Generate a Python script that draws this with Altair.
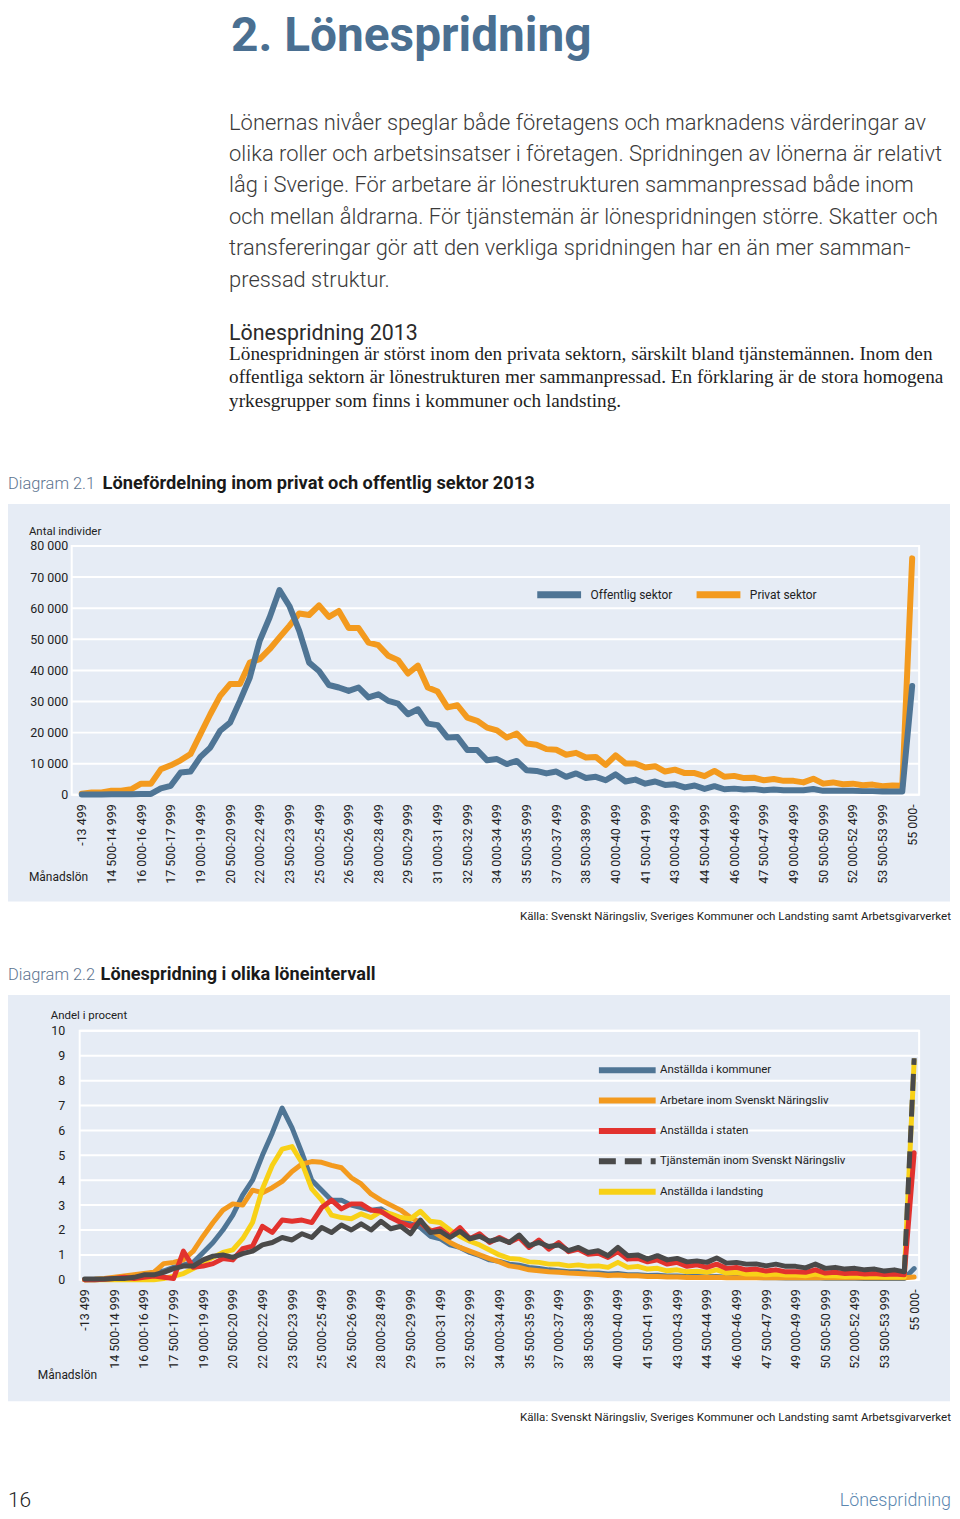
import altair as alt
import pandas as pd

FONT = "Roboto, Liberation Sans, sans-serif"
SERIF = "Liberation Serif, DejaVu Serif, serif"
BG = "#e6ecf5"
BLUE = "#4f7595"
ORANGE = "#f39a1e"
RED = "#e2322e"
DARK = "#4a4a4a"
YELLOW = "#f8d117"


def sp(n):
    return f"{n:,}".replace(",", " ")


CATEGORIES = ["-13 499"] + [f"{sp(a)}-{sp(a + 499)}" for a in range(13500, 55000, 500)] + ["55 000-"]
TICKS = CATEGORIES[::3]
GRID1 = list(range(0, 80001, 10000))
GRID2 = list(range(0, 11))

OFFENTLIG = [100, 100, 100, 200, 200, 200, 300, 300,
             2100, 2900, 7200, 7500, 12200, 15200, 20600, 23200,
             30200, 37700, 49500, 57000, 65800, 60700, 52700, 42500,
             39800, 35300, 34500, 33400, 34500, 31300, 32300, 30200,
             29300, 25900, 27500, 22900, 22400, 18400, 18600, 14400,
             14400, 11100, 11500, 9900, 10900, 7900, 7700, 6900,
             7500, 5800, 6900, 5400, 5800, 4700, 6600, 4300,
             4900, 3600, 4300, 3200, 3400, 2400, 3000, 1900,
             2800, 1800, 2000, 1700, 1900, 1500, 1700, 1500,
             1500, 1500, 1900, 1300, 1300, 1300, 1300, 1200,
             1200, 1100, 1100, 1100, 35000]
PRIVAT = [400, 750, 750, 1300, 1300, 1800, 3600, 3600,
          8200, 9500, 11100, 13100, 19500, 25900, 31800, 35600,
          35600, 42500, 43600, 46800, 50600, 54300, 58300, 57800,
          60900, 57200, 59100, 53600, 53600, 48900, 48100, 44700,
          43300, 39000, 41500, 34500, 33200, 28100, 28800, 24800,
          23800, 21600, 20700, 18400, 19700, 16500, 16100, 14700,
          14500, 12900, 13500, 12000, 12200, 9600, 12700, 10100,
          10100, 8800, 9200, 7500, 8100, 7000, 7000, 6000,
          7700, 5800, 6100, 5400, 5500, 4700, 5100, 4500,
          4500, 4000, 5200, 3600, 4000, 3400, 3600, 3100,
          3300, 2800, 3000, 2900, 76000]

KOMMUNER = [0.0, 0.0, 0.02, 0.05, 0.1, 0.15, 0.2, 0.3,
            0.35, 0.5, 0.6, 0.7, 1.1, 1.5, 2.0, 2.6,
            3.4, 4.0, 5.0, 5.9, 6.9, 6.1, 5.1, 4.0,
            3.6, 3.2, 3.2, 3.0, 2.9, 2.8, 2.85, 2.6,
            2.45, 2.25, 2.1, 1.75, 1.65, 1.4, 1.3, 1.1,
            0.97, 0.8, 0.74, 0.63, 0.59, 0.5, 0.46, 0.4,
            0.36, 0.32, 0.32, 0.27, 0.27, 0.23, 0.25, 0.2,
            0.2, 0.17, 0.18, 0.15, 0.15, 0.13, 0.13, 0.12,
            0.13, 0.1, 0.1, 0.09, 0.09, 0.08, 0.08, 0.07,
            0.07, 0.07, 0.08, 0.06, 0.06, 0.06, 0.06, 0.05,
            0.05, 0.05, 0.05, 0.05, 0.45]
ARBETARE = [0.0, 0.02, 0.05, 0.1, 0.15, 0.2, 0.25, 0.3,
            0.65, 0.7, 0.8, 1.15, 1.75, 2.3, 2.8, 3.05,
            3.0, 3.6, 3.5, 3.7, 3.95, 4.35, 4.65, 4.75,
            4.72, 4.6, 4.5, 4.1, 3.85, 3.45, 3.2, 3.0,
            2.8, 2.5, 2.3, 2.0, 1.75, 1.5, 1.3, 1.15,
            1.0, 0.85, 0.72, 0.56, 0.5, 0.4, 0.36, 0.32,
            0.3, 0.27, 0.25, 0.23, 0.21, 0.17, 0.19, 0.16,
            0.16, 0.13, 0.13, 0.11, 0.11, 0.09, 0.09, 0.09,
            0.1, 0.08, 0.08, 0.08, 0.08, 0.08, 0.08, 0.08,
            0.08, 0.08, 0.09, 0.08, 0.08, 0.08, 0.08, 0.08,
            0.08, 0.08, 0.08, 0.08, 0.11]
STATEN = [0.0, 0.0, 0.02, 0.05, 0.1, 0.05, 0.1, 0.15,
          0.1, 0.05, 1.15, 0.5, 0.55, 0.65, 0.85, 0.8,
          1.25, 1.35, 2.15, 1.9, 2.4, 2.35, 2.4, 2.3,
          2.9, 3.2, 2.85, 3.05, 3.05, 2.8, 2.75, 2.5,
          2.3, 2.15, 2.3, 1.95, 2.05, 1.75, 2.1, 1.65,
          1.85, 1.5, 1.7, 1.5, 1.7, 1.3, 1.6, 1.23,
          1.5, 1.13, 1.23, 1.03, 1.07, 0.9, 1.13, 0.83,
          0.86, 0.72, 0.8, 0.63, 0.7, 0.54, 0.6, 0.5,
          0.63, 0.46, 0.5, 0.4, 0.43, 0.35, 0.4, 0.32,
          0.32, 0.3, 0.4, 0.27, 0.3, 0.25, 0.27, 0.23,
          0.25, 0.21, 0.23, 0.2, 5.1]
TJANSTEMAN = [0.03, 0.03, 0.03, 0.05, 0.05, 0.1, 0.2, 0.2,
              0.3, 0.45, 0.55, 0.55, 0.8, 0.95, 1.0, 0.9,
              1.05, 1.15, 1.4, 1.5, 1.7, 1.6, 1.85, 1.7,
              2.1, 1.9, 2.2, 2.0, 2.25, 2.0, 2.35, 2.05,
              2.15, 1.85, 2.4, 1.9, 1.95, 1.7, 1.95, 1.65,
              1.75, 1.55, 1.65, 1.5, 1.8, 1.37, 1.5, 1.34,
              1.4, 1.17, 1.3, 1.1, 1.17, 0.97, 1.3, 0.97,
              1.0, 0.83, 0.97, 0.8, 0.86, 0.72, 0.76, 0.7,
              0.88, 0.67, 0.7, 0.63, 0.64, 0.56, 0.63, 0.54,
              0.54, 0.48, 0.63, 0.46, 0.5, 0.43, 0.46, 0.4,
              0.43, 0.35, 0.4, 0.32, 8.9]
LANDSTING = [0.0, 0.0, 0.0, 0.0, 0.0, 0.0, 0.0, 0.0,
             0.05, 0.15, 0.25, 0.45, 0.7, 0.9, 1.1, 1.2,
             1.65, 2.3, 3.65, 4.6, 5.25, 5.35, 4.7, 3.65,
             3.2, 2.6, 2.5, 2.45, 2.65, 2.5, 2.75, 2.65,
             2.5, 2.45, 2.75, 2.35, 2.3, 2.0, 1.75, 1.55,
             1.4, 1.2, 1.0, 0.86, 0.83, 0.72, 0.7, 0.63,
             0.63, 0.56, 0.6, 0.54, 0.56, 0.5, 0.7, 0.5,
             0.54, 0.43, 0.46, 0.36, 0.4, 0.32, 0.34, 0.3,
             0.4, 0.27, 0.3, 0.23, 0.24, 0.2, 0.23, 0.19,
             0.19, 0.16, 0.23, 0.16, 0.16, 0.13, 0.15, 0.12,
             0.13, 0.11, 0.11, 0.11, 8.8]

SER1 = ["Offentlig sektor", "Privat sektor"]
SER2 = ["Anställda i kommuner", "Arbetare inom Svenskt Näringsliv", "Anställda i staten",
        "Tjänstemän inom Svenskt Näringsliv", "Anställda i landsting"]

PARA1 = [
    "Lönernas nivåer speglar både företagens och marknadens värderingar av",
    "olika roller och arbetsinsatser i företagen. Spridningen av lönerna är relativt",
    "låg i Sverige. För arbetare är lönestrukturen sammanpressad både inom",
    "och mellan åldrarna. För tjänstemän är lönespridningen större. Skatter och",
    "transfereringar gör att den verkliga spridningen har en än mer samman-",
    "pressad struktur.",
]
PARA2 = [
    "Lönespridningen är störst inom den privata sektorn, särskilt bland tjänstemännen. Inom den",
    "offentliga sektorn är lönestrukturen mer sammanpressad. En förklaring är de stora homogena",
    "yrkesgrupper som finns i kommuner och landsting.",
]
SOURCE = "Källa: Svenskt Näringsliv, Sveriges Kommuner och Landsting samt Arbetsgivarverket"

ONE = pd.DataFrame({"d": [0]})
W = 851
H = 250
XR = 884  # right edge of the page area, relative to the plot origin


def txt(s, x, y, size, color="#222222", weight="normal", font=FONT, align="left"):
    return alt.Chart(ONE).mark_text(
        text=s, align=align, baseline="alphabetic", font=font, fontSize=size,
        fontWeight=weight, color=color
    ).encode(x=alt.value(x), y=alt.value(y))


def box(x1, x2, y1, y2, color="white"):
    return alt.Chart(ONE).mark_rect(color=color).encode(
        x=alt.value(x1), x2=alt.value(x2), y=alt.value(y1), y2=alt.value(y2))


def frame(x1):
    return alt.Chart(ONE).mark_rect(fillOpacity=0, stroke="white", strokeWidth=2).encode(
        x=alt.value(x1), x2=alt.value(W), y=alt.value(0), y2=alt.value(H))


def xaxis():
    return alt.Axis(values=TICKS, labelAngle=270, labelPadding=9, labelFont=FONT,
                    labelFontSize=12.5, labelColor="#222222", ticks=False, domain=False,
                    grid=False, title=None, labelOverlap=False, zindex=1)


# ---------- header ----------
header_layers = [box(-64, XR, 0, 452),
                 txt("2. Lönespridning", 160, 40, 48, "#4a6f91", "bold")]
for k, line in enumerate(PARA1):
    header_layers.append(txt(line, 158, 119 + 31.5 * k, 22, "#3a3a3a", 300))
header_layers.append(txt("Lönespridning 2013", 158, 330, 21.5, "#2b2b2b"))
for k, line in enumerate(PARA2):
    header_layers.append(txt(line, 158, 350 + 23.75 * k, 19.3, "#1e1e1e", font=SERIF))
header = alt.layer(*header_layers).properties(width=W, height=452)

# ---------- chart 1 ----------
df1 = pd.DataFrame({
    "kat": CATEGORIES * 2,
    "serie": ["Privat sektor"] * len(PRIVAT) + ["Offentlig sektor"] * len(OFFENTLIG),
    "antal": PRIVAT + OFFENTLIG,
})
y1 = alt.Y("antal:Q", scale=alt.Scale(domain=[0, 80000], nice=False),
           axis=alt.Axis(values=GRID1,
                         labelExpr="replace(format(datum.value, ',d'), ',', ' ')",
                         grid=False, domain=False, ticks=False, tickSize=0, labelPadding=4,
                         labelFont=FONT, labelFontSize=12.5, labelColor="#222222", title=None,
                         zindex=1))
grid1 = alt.Chart(pd.DataFrame({"antal": GRID1})).mark_rule(color="white", strokeWidth=2).encode(
    y=y1, x=alt.value(0), x2=alt.value(W))
lines1 = alt.Chart(df1).mark_line(strokeWidth=6, strokeJoin="round", strokeCap="round").encode(
    x=alt.X("kat:N", sort=CATEGORIES,
            scale=alt.Scale(type="point", padding=0.86, align=0.59), axis=xaxis()),
    y=y1,
    color=alt.Color("serie:N", scale=alt.Scale(domain=SER1, range=[BLUE, ORANGE]),
                    legend=alt.Legend(title=None, orient="none", legendX=480.5, legendY=40,
                                      direction="horizontal", symbolType="M-4,0H4",
                                      symbolSize=121, symbolStrokeWidth=7, labelOffset=22.5,
                                      columnPadding=10, labelFont=FONT, labelFontSize=12,
                                      labelColor="#222222", padding=0, labelLimit=300)),
)
chart1 = alt.layer(
    box(-64, XR, -85, 400),
    box(-64, 882, -42, 357, BG),
    grid1,
    frame(0),
    txt("Diagram 2.1", -64, -57, 16.5, "#5d7490", 300),
    txt("Lönefördelning inom privat och offentlig sektor 2013", 31, -57, 18.3, "#1a1a1a", "bold"),
    txt("Antal individer", -43, -11, 11.5),
    txt("Månadslön", -43, 337, 12),
    txt(SOURCE, XR - 1, 376, 11.6, align="right"),
    lines1,
).properties(width=W, height=H)

# ---------- chart 2 ----------
order2 = [("Anställda i kommuner", KOMMUNER), ("Arbetare inom Svenskt Näringsliv", ARBETARE),
          ("Anställda i landsting", LANDSTING), ("Anställda i staten", STATEN),
          ("Tjänstemän inom Svenskt Näringsliv", TJANSTEMAN)]
rows = []
for name, vals in order2:
    for i, v in enumerate(vals):
        rows.append({"kat": CATEGORIES[i], "idx": i, "serie": name, "andel": v})
df2 = pd.DataFrame(rows)

leg2 = alt.Legend(title=None, orient="none", legendX=547.4, legendY=29, direction="vertical",
                  symbolType="M-4,0H4", symbolSize=203, symbolStrokeWidth=6, labelOffset=22.3,
                  rowPadding=5.5, labelFont=FONT, labelFontSize=11.5, labelColor="#222222",
                  padding=0, labelLimit=300)
x2 = alt.X("kat:N", sort=CATEGORIES, scale=alt.Scale(type="point", padding=0.9075, align=0.722),
           axis=xaxis())
y2 = alt.Y("andel:Q", scale=alt.Scale(domain=[0, 10], nice=False),
           axis=alt.Axis(values=GRID2, format="d", grid=False, domain=False, ticks=False,
                         tickSize=0, labelPadding=7, labelFont=FONT, labelFontSize=12.5,
                         labelColor="#222222", title=None, zindex=1))
grid2 = alt.Chart(pd.DataFrame({"andel": GRID2})).mark_rule(color="white", strokeWidth=2).encode(
    y=y2, x=alt.value(8), x2=alt.value(W))
col2 = alt.Color("serie:N", scale=alt.Scale(domain=SER2, range=[BLUE, ORANGE, RED, DARK, YELLOW]),
                 legend=leg2)
TJ = "Tjänstemän inom Svenskt Näringsliv"
lines2 = alt.Chart(df2).mark_line(strokeWidth=5, strokeJoin="round", strokeCap="round").encode(
    x=x2, y=y2, color=col2
).transform_filter(f"datum.serie != '{TJ}' || datum.idx < 84")
spike2 = alt.Chart(df2).mark_line(strokeWidth=5).encode(
    x=x2, y=y2, color=col2,
    strokeDash=alt.StrokeDash("serie:N", scale=alt.Scale(
        domain=SER2, range=[[1, 0], [1, 0], [1, 0], [17, 9], [1, 0]]), legend=leg2),
).transform_filter(f"datum.serie == '{TJ}' && datum.idx >= 83")

chart2 = alt.layer(
    box(-64, XR, -87, 483),
    box(-64, 882, -36, 372, BG),
    grid2,
    frame(8),
    txt("Diagram 2.2", -64, -51, 16.5, "#5d7490", 300),
    txt("Lönespridning i olika löneintervall", 29, -51, 18.2, "#1a1a1a", "bold"),
    txt("Andel i procent", -21, -12, 11.5),
    txt("Månadslön", -34, 350, 12),
    txt(SOURCE, XR - 1, 392, 11.6, align="right"),
    txt("16", -64, 478, 21, "#222222", 300),
    txt("Lönespridning", XR - 1, 477, 18, "#5b87b0", 300, align="right"),
    lines2,
    spike2,
).properties(width=W, height=H)

chart = alt.vconcat(header, chart1, chart2, spacing=0).resolve_scale(
    color="independent", strokeDash="independent"
).resolve_legend(color="independent", strokeDash="independent").properties(
    background="white", padding=0
).configure_view(strokeWidth=0)

chart.save("out.html", embed_options={"renderer": "svg", "actions": False})
